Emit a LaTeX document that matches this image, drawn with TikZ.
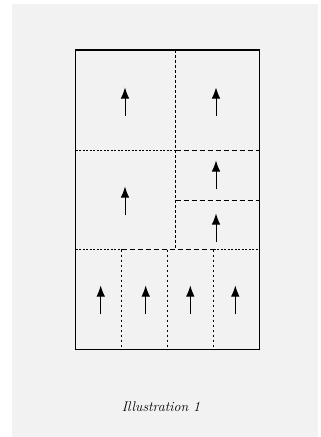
\documentclass[tikz,border=0pt]{standalone}
\usepackage{tikz}
\usetikzlibrary{arrows.meta}

\begin{document}
\begin{tikzpicture}[
        x=1pt, y=-1pt,
        page/.style={fill=black!5, draw=none},
        frame/.style={draw=black, line width=1.1pt},
        fine/.style={draw=black, line width=0.6pt, dash pattern=on 2pt off 1.5pt},
        coarse/.style={draw=black, line width=0.6pt, dash pattern=on 5pt off 3pt},
        mid/.style={draw=black, line width=0.6pt, dash pattern=on 2.5pt off 2.5pt},
        uparrow/.style={line width=0.9pt, -{Latex[length=11pt,width=8.5pt]}},
        caption/.style={font=\fontsize{14}{16}\selectfont\itshape}
    ]

    % Page
    \useasboundingbox (0,0) rectangle (321,437);
    \fill [page] (12,4) rectangle (318,437);

    % Outer frame
    \coordinate (NW) at (75.5,50);
    \coordinate (SE) at (259.5,349.5);
    \draw [frame] (NW) rectangle (SE);

    % Dividers
    \draw [mid] (175.7,50) -- (175.7,249.5);
    \draw [fine] (75.5,150) -- (175.7,150);
    \draw [coarse] (175.7,150) -- (259.5,150);
    \draw [coarse] (175.7,200.3) -- (259.5,200.3);
    \draw [fine] (75.5,249.5) -- (121.5,249.5);
    \draw [coarse] (121.5,249.5) -- (213.5,249.5);
    \draw [fine] (213.5,249.5) -- (259.5,249.5);
    \foreach \x in {121.5,167.5,213.5}
        \draw [mid] (\x,249.5) -- (\x,349.5);

    % Arrows
    \foreach \x/\y [count=\i] in {125/116, 216/116, 125/215, 216/189, 216/242,
                                  100.7/314, 145.7/314, 190.3/314, 235.3/314}
    {
        \coordinate (tail\i) at (\x,\y);
        \coordinate (head\i) at (\x,\y-28.5);
        \draw [uparrow] (tail\i) -- (head\i);
    }

    % Caption
    \node (Caption) [caption] at (161,407) {Illustration 1};

\end{tikzpicture}
\end{document}
